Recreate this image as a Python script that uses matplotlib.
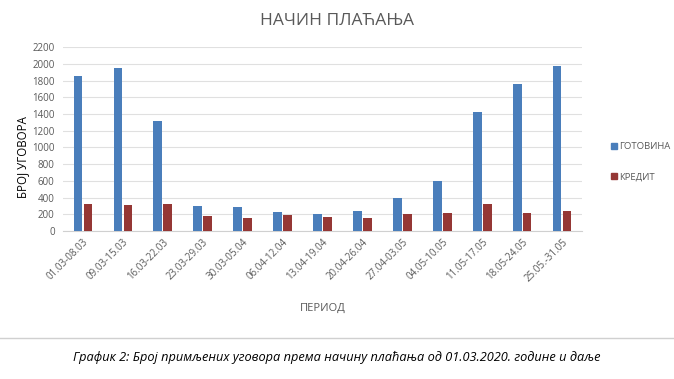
"""
Начин плаћања - grouped bar chart
"""
import numpy as np
import matplotlib.pyplot as plt
from matplotlib.lines import Line2D

plt.rcParams['font.family'] = ['Open Sans', 'DejaVu Sans']

COLOR_CASH = "#4A7EBB"
COLOR_CREDIT = "#953735"
TEXT_GRAY = "#595959"

periods = ["01.03-08.03", "09.03-15.03", "16.03-22.03", "23.03-29.03",
           "30.03-05.04", "06.04-12.04", "13.04-19.04", "20.04-26.04",
           "27.04-03.05", "04.05-10.05", "11.05-17.05", "18.05-24.05",
           "25.05.-31.05"]
cash = [1860, 1952, 1315, 298, 293, 233, 204, 245, 390, 594, 1420, 1760, 1970]
credit = [325, 306, 328, 185, 160, 192, 164, 160, 204, 212, 320, 220, 245]
yticks = list(range(0, 2201, 200))

fig = plt.figure(figsize=(6.74, 3.79), dpi=100)
ax = fig.add_axes([0.0935, 0.3905, 0.77, 0.485])

x = np.arange(len(periods))
w = 0.22
ax.bar(x - 0.125, cash, w, color=COLOR_CASH, zorder=3)
ax.bar(x + 0.125, credit, w, color=COLOR_CREDIT, zorder=3)

ax.set_xlim(-0.5, len(periods) - 0.5)
ax.set_ylim(0, 2200)
ax.set_yticks(yticks)
ax.grid(axis="y", color="#E0E0E0", linewidth=0.8, zorder=0)
for s in ["top", "right", "left"]:
    ax.spines[s].set_visible(False)
ax.spines["bottom"].set_color("#D0D0D0")
ax.tick_params(axis="both", length=0, labelsize=7, labelcolor=TEXT_GRAY)
ax.tick_params(axis="y", pad=6)
ax.set_xticks(x)
ax.set_xticklabels(periods, rotation=45, ha="right", rotation_mode="anchor")
ax.tick_params(axis="x", pad=4)

ax.set_ylabel("БРОЈ УГОВОРА", fontsize=8.3, color="#000000")
ax.yaxis.set_label_coords(-0.066, 0.40)
ax.set_xlabel("ПЕРИОД", fontsize=8, color=TEXT_GRAY, labelpad=14)

fig.text(0.5, 0.945, "НАЧИН ПЛАЋАЊА", ha="center", va="center",
         fontsize=12.5, color=TEXT_GRAY)

handles = [Line2D([], [], marker="s", linestyle="", markersize=5,
                  color=COLOR_CASH),
           Line2D([], [], marker="s", linestyle="", markersize=5,
                  color=COLOR_CREDIT)]
fig.legend(handles, ["ГОТОВИНА", "КРЕДИТ"], loc="center left",
           bbox_to_anchor=(0.893, 0.573), frameon=False, fontsize=6.8,
           labelcolor=TEXT_GRAY, handletextpad=0.15, handlelength=0.8,
           labelspacing=2.3)

# page separator and caption
fig.add_artist(Line2D([0, 1], [1 - 338 / 379] * 2, color="#D0D0D0",
                      linewidth=1))
fig.text(0.5, 1 - 357 / 379,
         "График 2: Број примљених уговора према начину плаћања од 01.03.2020. године и даље",
         ha="center", va="center", fontsize=9.2, style="italic", color="#000000")

fig.savefig("out.png", dpi=100)
